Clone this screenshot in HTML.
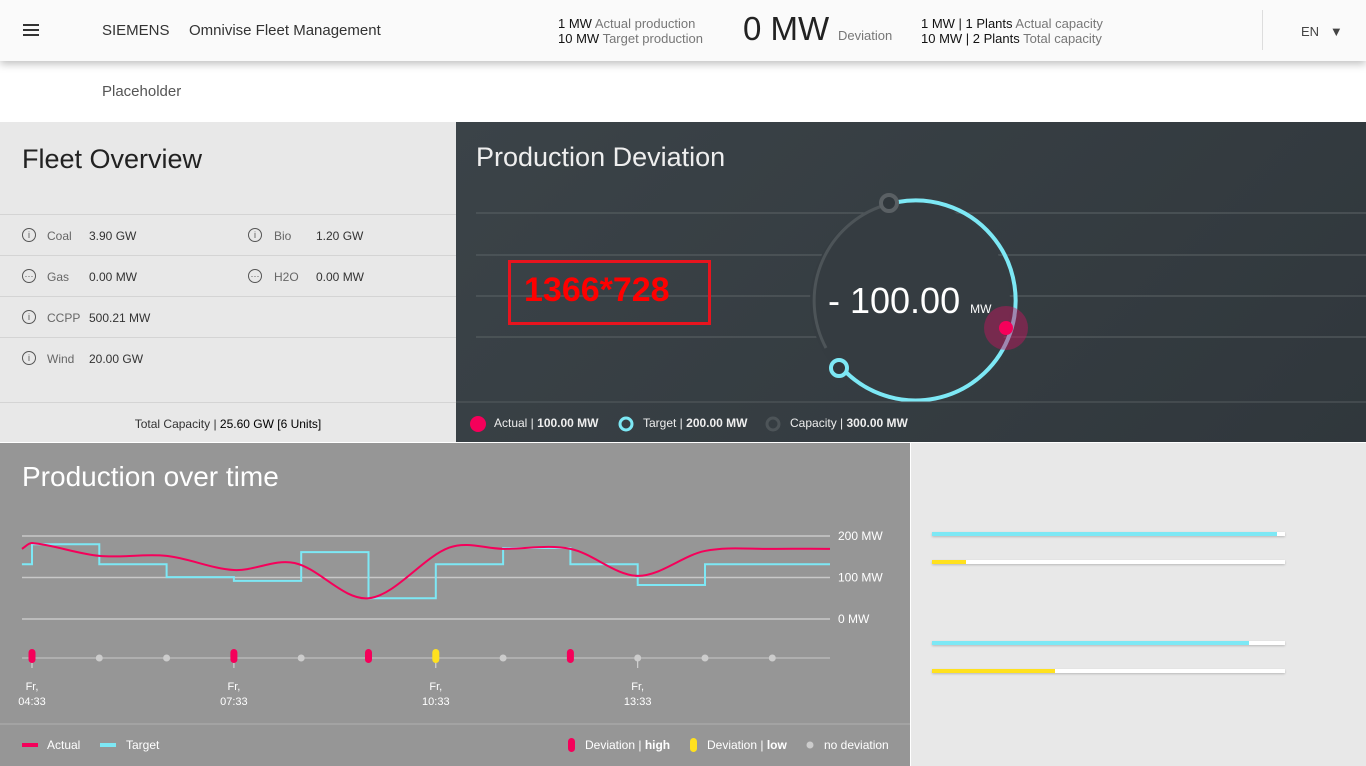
<!DOCTYPE html>
<html><head><meta charset="utf-8">
<style>
*{box-sizing:border-box;margin:0;padding:0}
body{width:1366px;height:766px;overflow:hidden;font-family:"Liberation Sans",sans-serif;background:#fff;position:relative;color:#333}
.a{position:absolute;white-space:nowrap}
.hdr{left:0;top:0;width:1366px;height:61px;background:#fafafa;box-shadow:0 3px 8px rgba(0,0,0,.25);z-index:2}
.fo{left:0;top:122px;width:456px;height:320px;background:#e8e8e8}
.pd{left:456px;top:122px;width:910px;height:320px;background:linear-gradient(135deg,#3b4348,#30373c)}
.pt{left:0;top:443px;width:910px;height:323px;background:#969696}
.br{left:911px;top:443px;width:455px;height:323px;background:#e8e8e8}
.row{left:0;width:456px;height:41px;border-top:1px solid #d4d4d4;font-size:12px;color:#333}
.ic{display:inline-block;width:14px;height:14px;border:1px solid #555;border-radius:50%;font-size:9px;text-align:center;line-height:12px;color:#555}
.bar{height:4px;background:#fff;box-shadow:0 1px 2px rgba(0,0,0,.2)}
</style></head><body>
<div class="a hdr">
 <div class="a" style="left:23px;top:24px;width:16px;height:12px;border-top:2px solid #333;border-bottom:2px solid #333"><div style="margin-top:3px;height:2px;background:#333"></div></div>
 <div class="a" style="left:102px;top:22px;font-size:15px">SIEMENS</div>
 <div class="a" style="left:189px;top:22px;font-size:15px">Omnivise Fleet Management</div>
 <div class="a" style="left:558px;top:16px;font-size:13px;line-height:15px"><b style="font-weight:normal;color:#111">1 MW</b> <span style="color:#777">Actual production</span><br><b style="font-weight:normal;color:#111">10 MW</b> <span style="color:#777">Target production</span></div>
 <div class="a" style="left:743px;top:10px;font-size:33px;color:#222">0 MW</div>
 <div class="a" style="left:838px;top:28px;font-size:13px;color:#777">Deviation</div>
 <div class="a" style="left:921px;top:16px;font-size:13px;line-height:15px"><span style="color:#111">1 MW | 1 Plants</span> <span style="color:#777">Actual capacity</span><br><span style="color:#111">10 MW | 2 Plants</span> <span style="color:#777">Total capacity</span></div>
 <div class="a" style="left:1262px;top:10px;width:1px;height:40px;background:#ddd"></div>
 <div class="a" style="left:1301px;top:24px;font-size:13px;color:#444">EN &nbsp;&nbsp;▼</div>
</div>
<div class="a" style="left:102px;top:83px;font-size:15px;color:#555">Placeholder</div>

<div class="a fo">
 <div class="a" style="left:22px;top:22px;font-size:27px;color:#222">Fleet Overview</div>
 <div class="a row" style="top:92px"><span class="a ic" style="left:22px;top:13px">i</span><span class="a" style="left:47px;top:14px;color:#666">Coal</span><span class="a" style="left:89px;top:14px">3.90 GW</span><span class="a ic" style="left:248px;top:13px">i</span><span class="a" style="left:274px;top:14px;color:#666">Bio</span><span class="a" style="left:316px;top:14px">1.20 GW</span></div>
 <div class="a row" style="top:133px"><span class="a ic" style="left:22px;top:13px">···</span><span class="a" style="left:47px;top:14px;color:#666">Gas</span><span class="a" style="left:89px;top:14px">0.00 MW</span><span class="a ic" style="left:248px;top:13px">···</span><span class="a" style="left:274px;top:14px;color:#666">H2O</span><span class="a" style="left:316px;top:14px">0.00 MW</span></div>
 <div class="a row" style="top:174px"><span class="a ic" style="left:22px;top:13px">i</span><span class="a" style="left:47px;top:14px;color:#666">CCPP</span><span class="a" style="left:89px;top:14px">500.21 MW</span></div>
 <div class="a row" style="top:215px"><span class="a ic" style="left:22px;top:13px">i</span><span class="a" style="left:47px;top:14px;color:#666">Wind</span><span class="a" style="left:89px;top:14px">20.00 GW</span></div>
 <div class="a" style="left:0;top:280px;width:456px;border-top:1px solid #d4d4d4;text-align:center;padding-top:14px;font-size:12px">Total Capacity | <b style="font-weight:normal;color:#000">25.60 GW [6 Units]</b></div>
</div>

<div class="a pd">
 <div class="a" style="left:20px;top:20px;font-size:27px;color:#eee">Production Deviation</div>
 <svg class="a" style="left:0;top:0" width="910" height="320">
  <g stroke="#555c5f" stroke-width="1.3">
   <line x1="20" y1="91" x2="910" y2="91"/><line x1="20" y1="133" x2="910" y2="133"/><line x1="20" y1="174" x2="910" y2="174"/><line x1="20" y1="215" x2="910" y2="215"/>
  </g>
  <circle cx="454" cy="180" r="100" fill="#353c41" />
  <path d="M433 82 A100 100 0 0 0 370 226" fill="none" stroke="#4d5458" stroke-width="3"/>
  <path d="M442 80 A100 100 0 1 1 385 245" fill="none" stroke="#7de8f5" stroke-width="4"/>
  <circle cx="433" cy="81" r="8" fill="#30373c" stroke="#5a6064" stroke-width="4"/>
  <circle cx="383" cy="246" r="8" fill="#30373c" stroke="#7de8f5" stroke-width="4"/>
  <circle cx="550" cy="206" r="22" fill="#c8145f" opacity=".45"/>
  <circle cx="550" cy="206" r="7" fill="#f5005a"/>
  <line x1="0" y1="280" x2="910" y2="280" stroke="#555c5f"/>
  <circle cx="22" cy="302" r="8" fill="#f5005a"/>
  <circle cx="170" cy="302" r="6" fill="none" stroke="#7de8f5" stroke-width="3"/>
  <circle cx="317" cy="302" r="6" fill="none" stroke="#4d5458" stroke-width="3"/>
 </svg>
 <div class="a" style="left:52px;top:138px;width:203px;height:65px;border:3px solid #e8141e;color:#f00;font-size:34px;font-weight:bold;padding:8px 0 0 13px">1366*728</div>
 <div class="a" style="left:372px;top:158px;font-size:36px;color:#fff">- 100.00 <span style="font-size:12px">MW</span></div>
 <div class="a" style="left:38px;top:294px;font-size:12px;color:#eee">Actual | <b>100.00 MW</b></div>
 <div class="a" style="left:187px;top:294px;font-size:12px;color:#eee">Target | <b>200.00 MW</b></div>
 <div class="a" style="left:334px;top:294px;font-size:12px;color:#eee">Capacity | <b>300.00 MW</b></div>
</div>

<div class="a pt">
 <div class="a" style="left:22px;top:18px;font-size:28px;color:#fff">Production over time</div>
 <svg id="chart" class="a" style="left:0;top:0" width="910" height="323"></svg>
</div>

<div class="a br">
 <div class="a bar" style="left:21px;top:89px;width:353px"><div style="width:345px;height:4px;background:#7de8f5"></div></div>
 <div class="a bar" style="left:21px;top:117px;width:353px"><div style="width:34px;height:4px;background:#ffe11e"></div></div>
 <div class="a bar" style="left:21px;top:198px;width:353px"><div style="width:317px;height:4px;background:#7de8f5"></div></div>
 <div class="a bar" style="left:21px;top:226px;width:353px"><div style="width:123px;height:4px;background:#ffe11e"></div></div>
</div>

<script>
const targetSteps=[132,180,132,101,92,161,50,132,171,132,82,132,132];
const actualHours=[-0.15,0,1,2,3,3.9,5,6.2,7,8,9,10,11,11.82];
const actualVals=[169,183,152,152,118,135,50,172,169,169,104,164,169,169];
const devHours=[0,1,2,3,4,5,6,7,8,9,10,11];
const devType=['high','none','none','high','none','high','low','none','high','none','none','none'];
const tickHours=[0,3,6,9];
const tickLabels=['04:33','07:33','10:33','13:33'];
const yTicks=[0,100,200];
const NS='http://www.w3.org/2000/svg';
const svg=document.getElementById('chart');
const X=h=>32+h*67.3, Y=v=>176-v*0.415;
function el(t,a,name){const e=document.createElementNS(NS,t);for(const k in a)e.setAttribute(k,a[k]);


svg.appendChild(e);return e;}
yTicks.forEach(v=>{el('line',{x1:22,x2:830,y1:Y(v),y2:Y(v),stroke:'#c8c8c8','stroke-width':1.5},'gridline');
const t=el('text',{x:838,y:Y(v)+4,fill:'#fff','font-size':12},'y-tick-label');t.textContent=v+' MW';});
let d='M'+X(-0.15)+' '+Y(targetSteps[0]);
for(let i=0;i<12;i++){d+=' L'+X(i)+' '+Y(targetSteps[i])+' L'+X(i)+' '+Y(targetSteps[i+1]);}
d+=' L830 '+Y(targetSteps[12]);
el('path',{d:d,fill:'none',stroke:'#7de8f5','stroke-width':2},'target-line');
const pts=actualHours.map((h,i)=>[X(h),Y(actualVals[i])]);pts[pts.length-1][0]=830;
let p='M'+pts[0][0]+' '+pts[0][1];
for(let i=0;i<pts.length-1;i++){const p0=pts[Math.max(0,i-1)],p1=pts[i],p2=pts[i+1],p3=pts[Math.min(pts.length-1,i+2)];
const s1=(p2[0]-p1[0])/(p2[0]-p0[0]||1),s2=(p2[0]-p1[0])/(p3[0]-p1[0]||1);
p+=' C'+(p1[0]+(p2[0]-p0[0])*s1/3)+' '+(p1[1]+(p2[1]-p0[1])*s1/3)+' '+(p2[0]-(p3[0]-p1[0])*s2/3)+' '+(p2[1]-(p3[1]-p1[1])*s2/3)+' '+p2[0]+' '+p2[1];}
el('path',{d:p,fill:'none',stroke:'#f5005a','stroke-width':2},'actual-line');
el('line',{x1:22,x2:830,y1:215,y2:215,stroke:'#c8c8c8'},'deviation-axis');
tickHours.forEach((h,i)=>{el('line',{x1:X(h),x2:X(h),y1:215,y2:225,stroke:'#ddd'},'time-tick');
const t=el('text',{x:X(h),y:247,fill:'#fff','font-size':11,'text-anchor':'middle'},'time-label');t.textContent='Fr,';
const t2=el('text',{x:X(h),y:262,fill:'#fff','font-size':11,'text-anchor':'middle'},'time-label');t2.textContent=tickLabels[i];});
devHours.forEach((h,i)=>{const ty=devType[i];
if(ty==='none')el('circle',{cx:X(h),cy:215,r:3.5,fill:'#ccc'},'deviation-marker');
else el('rect',{x:X(h)-3.5,y:206,width:7,height:14,rx:3.5,fill:ty==='high'?'#f5005a':'#ffe11e'},'deviation-marker');});
el('line',{x1:0,x2:910,y1:281,y2:281,stroke:'#b0b0b0'},'legend-divider');
el('rect',{x:22,y:300,width:16,height:4,fill:'#f5005a'},'legend-actual-swatch');
el('rect',{x:100,y:300,width:16,height:4,fill:'#7de8f5'},'legend-target-swatch');
el('rect',{x:568,y:295,width:7,height:14,rx:3.5,fill:'#f5005a'},'legend-high-swatch');
el('rect',{x:690,y:295,width:7,height:14,rx:3.5,fill:'#ffe11e'},'legend-low-swatch');
el('circle',{cx:810,cy:302,r:3.5,fill:'#ccc'},'legend-none-swatch');
[[47,'Actual',''],[126,'Target',''],[585,'Deviation | ','high'],[707,'Deviation | ','low'],[824,'no deviation','']].forEach(a=>{
const t=el('text',{x:a[0],y:306,fill:'#fff','font-size':12},'legend-label');t.textContent=a[1];
if(a[2]){const s=document.createElementNS(NS,'tspan');s.setAttribute('font-weight','bold');s.textContent=a[2];t.appendChild(s);}});
</script>
</body></html>
